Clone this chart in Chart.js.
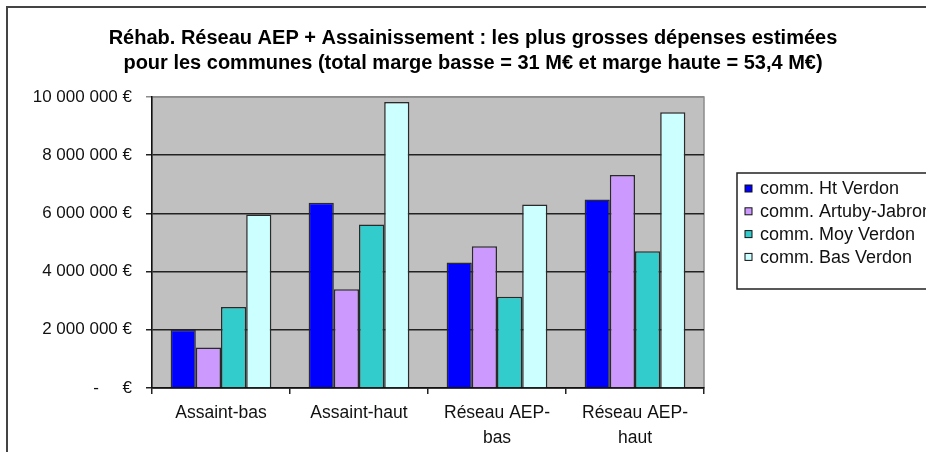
<!DOCTYPE html>
<html lang="fr">
<head>
<meta charset="utf-8">
<title>Réhab. Réseau AEP + Assainissement</title>
<script src="https://cdn.jsdelivr.net/npm/chart.js@4"></script>
<style>
  html, body { margin: 0; padding: 0; background: #fff; overflow: hidden; }
  #frame { position: absolute; left: 6px; top: 6px; width: 940px; height: 470px; border: 2px solid #444; }
  #chart { position: absolute; left: 0; top: 0; }
</style>
</head>
<body>
<div id="frame"></div>
<canvas id="chart" width="926" height="452"></canvas>
<script>
// categories (x axis)
const categories = ['Assaint-bas', 'Assaint-haut', ['Réseau AEP-', 'bas'], ['Réseau AEP-', 'haut']];

// series, in euros
const seriesNames = ['comm. Ht Verdon', 'comm. Artuby-Jabron', 'comm. Moy Verdon', 'comm. Bas Verdon'];
const htVerdon = [2000000, 6370000, 4310000, 6480000];
const artubyJabron = [1390000, 3390000, 4870000, 7320000];
const moyVerdon = [2780000, 5620000, 3140000, 4700000];
const basVerdon = [5960000, 9830000, 6310000, 9480000];
const seriesColors = ['#0000ff', '#cc99ff', '#33cccc', '#ccffff'];

// y axis
const yMax = 10000000;
const yStep = 2000000;

const titleLines = [
  'Réhab. Réseau AEP + Assainissement : les plus grosses dépenses estimées',
  'pour les communes (total marge basse = 31 M€ et marge haute = 53,4 M€)'
];

Chart.defaults.font.family = "'Liberation Sans', Arial, sans-serif";
Chart.defaults.color = '#111';

function euros(v) {
  if (v === 0) return '-     €';
  return String(v).replace(/\B(?=(\d{3})+(?!\d))/g, ' ') + ' €';
}

// grey plot area with a light top/right edge
const plotBg = {
  id: 'plotBg',
  beforeDraw(chart) {
    const { ctx, chartArea: a } = chart;
    ctx.save();
    ctx.fillStyle = '#c0c0c0';
    ctx.fillRect(a.left, a.top, a.right - a.left, a.bottom - a.top);
    ctx.strokeStyle = '#8c8c8c';
    ctx.lineWidth = 1.5;
    ctx.strokeRect(a.left, a.top, a.right - a.left, a.bottom - a.top);
    ctx.restore();
  }
};

// boxed legend to the right, like the Excel one (cut off by the right edge)
const legendBox = {
  id: 'legendBox',
  afterDraw(chart) {
    const { ctx, chartArea: a } = chart;
    const x = a.right + 33, y = 173, h = 116, rowH = 22.8;
    const far = chart.width + 20;
    ctx.save();
    ctx.fillStyle = '#fff';
    ctx.fillRect(x, y, far - x, h);
    ctx.strokeStyle = '#222';
    ctx.lineWidth = 1.5;
    ctx.beginPath();
    ctx.moveTo(far, y);
    ctx.lineTo(x, y);
    ctx.lineTo(x, y + h);
    ctx.lineTo(far, y + h);
    ctx.stroke();
    ctx.font = "18px 'Liberation Sans', Arial, sans-serif";
    ctx.textBaseline = 'middle';
    chart.data.datasets.forEach((ds, i) => {
      const cy = y + 15.5 + i * rowH;
      ctx.fillStyle = ds.backgroundColor;
      ctx.fillRect(x + 8, cy - 3.5, 7, 7);
      ctx.lineWidth = 1;
      ctx.strokeStyle = '#111';
      ctx.strokeRect(x + 8, cy - 3.5, 7, 7);
      ctx.fillStyle = '#111';
      ctx.fillText(ds.label, x + 23, cy + 1);
    });
    ctx.restore();
  }
};

const values = [htVerdon, artubyJabron, moyVerdon, basVerdon];

new Chart(document.getElementById('chart'), {
  type: 'bar',
  data: {
    labels: categories,
    datasets: seriesNames.map((name, i) => ({
      label: name,
      data: values[i],
      backgroundColor: seriesColors[i],
      borderColor: '#2a2a2a',
      borderWidth: 1.5,
      categoryPercentage: 0.73,
      barPercentage: 1
    }))
  },
  options: {
    responsive: false,
    animation: false,
    // left padding keeps the title centred where the original (wider) chart had it
    layout: { padding: { left: 20, right: 0, top: 0, bottom: 0 } },
    plugins: {
      legend: { display: false },
      tooltip: { enabled: false },
      title: {
        display: true,
        text: titleLines,
        color: '#000',
        font: { size: 20, weight: 'bold', lineHeight: 1.25 },
        padding: { top: 26, bottom: 21 }
      }
    },
    scales: {
      x: {
        grid: { display: true, drawOnChartArea: false, drawTicks: true, tickLength: 6, offset: true, color: '#222', lineWidth: 1.5 },
        border: { display: true, color: '#111', width: 1.5 },
        ticks: { font: { size: 17.5, lineHeight: 1.41 }, padding: 7, maxRotation: 0, autoSkip: false },
        afterFit(s) { s.height = 64; }
      },
      y: {
        min: 0,
        max: yMax,
        grid: {
          color: ctx => (ctx.tick && ctx.tick.value === yMax) ? '#8c8c8c' : '#222',
          lineWidth: 1.5,
          tickLength: 6
        },
        border: { display: true, color: '#111', width: 1.5 },
        ticks: { stepSize: yStep, padding: 14, font: { size: 17 }, callback: v => euros(v) },
        afterFit(s) { s.width = 132; }
      },
      pad: {
        type: 'linear',
        position: 'right',
        display: true,
        grid: { display: false },
        ticks: { display: false },
        border: { display: false },
        afterFit(s) { s.width = 222; }
      }
    }
  },
  plugins: [plotBg, legendBox]
});
</script>
</body>
</html>
